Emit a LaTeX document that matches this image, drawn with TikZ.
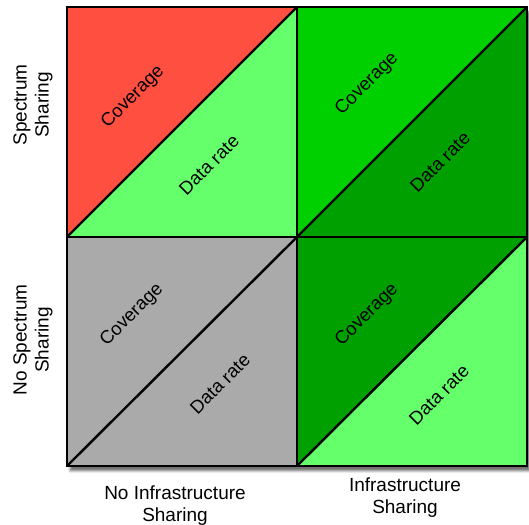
\documentclass[tikz,border=0pt]{standalone}
\usepackage{fontspec}
\setmainfont{Liberation Sans}
\usetikzlibrary{shadows.blur}
\definecolor{cred}{HTML}{FF4F40}
\definecolor{clight}{HTML}{66FF6C}
\definecolor{cgray}{HTML}{AAAAAA}
\definecolor{cbright}{HTML}{00D000}
\definecolor{cdark}{HTML}{00A000}
\tikzset{
  grid line/.style={line width=2.6pt, line join=miter, line cap=rect},
  diag line/.style={line width=2.4pt},
  tri label/.style={rotate=45, font=\fontsize{18.5}{21}\selectfont, inner sep=0pt},
  axis label/.style={font=\fontsize{19}{22}\selectfont, align=center, inner sep=0pt}
}
\begin{document}
\begin{tikzpicture}[x=1pt,y=1pt]
\useasboundingbox (0,0) rectangle (529,524);
% corners
\coordinate (a1) at (67,517);  \coordinate (a2) at (297,517); \coordinate (a3) at (527,517);
\coordinate (b1) at (67,287);  \coordinate (b2) at (297,287); \coordinate (b3) at (527,287);
\coordinate (c1) at (67,58);   \coordinate (c2) at (297,58);  \coordinate (c3) at (527,58);
% shadow
\path[fill=white, blur shadow={shadow xshift=3pt, shadow yshift=-5pt, shadow blur steps=8, shadow opacity=55}] (a1) rectangle (c3);
% top-left
\fill[cred] (b1) -- (a1) -- (a2) -- cycle;
\fill[clight] (b1) -- (a2) -- (b2) -- cycle;
% top-right
\fill[cbright] (b2) -- (a2) -- (a3) -- cycle;
\fill[cdark] (b2) -- (a3) -- (b3) -- cycle;
% bottom-left
\fill[cgray] (c1) -- (b1) -- (b2) -- (c2) -- cycle;
% bottom-right
\fill[cdark] (c2) -- (b2) -- (b3) -- cycle;
\fill[clight] (c2) -- (b3) -- (c3) -- cycle;
% diagonals
\draw[diag line] (b1) -- (a2);
\draw[diag line] (b2) -- (a3);
\draw[diag line] (c1) -- (b2);
\draw[diag line] (c2) -- (b3);
% grid
\draw[grid line] (a1) rectangle (c3);
\draw[grid line] (a2) -- (c2);
\draw[grid line] (b1) -- (b3);
% triangle labels
\node[tri label] (tlc) at (133,427) {Coverage};
\node[tri label] (tld) at (209,359) {Data rate};
\node[tri label] (trc) at (367,440) {Coverage};
\node[tri label] (trd) at (440,362) {Data rate};
\node[tri label] (llc) at (132,209) {Coverage};
\node[tri label] (lld) at (220,140) {Data rate};
\node[tri label] (lrc) at (367,209) {Coverage};
\node[tri label] (lrd) at (439,129) {Data rate};
% axis labels
\node[axis label, rotate=90] (ss) at (33,419) {Spectrum\\Sharing};
\node[axis label, rotate=90] (ns) at (33,184) {No Spectrum\\Sharing};
\node[axis label] (ni) at (175,18) {No Infrastructure\\Sharing};
\node[axis label] (is) at (405,26) {Infrastructure\\Sharing};
\end{tikzpicture}
\end{document}
